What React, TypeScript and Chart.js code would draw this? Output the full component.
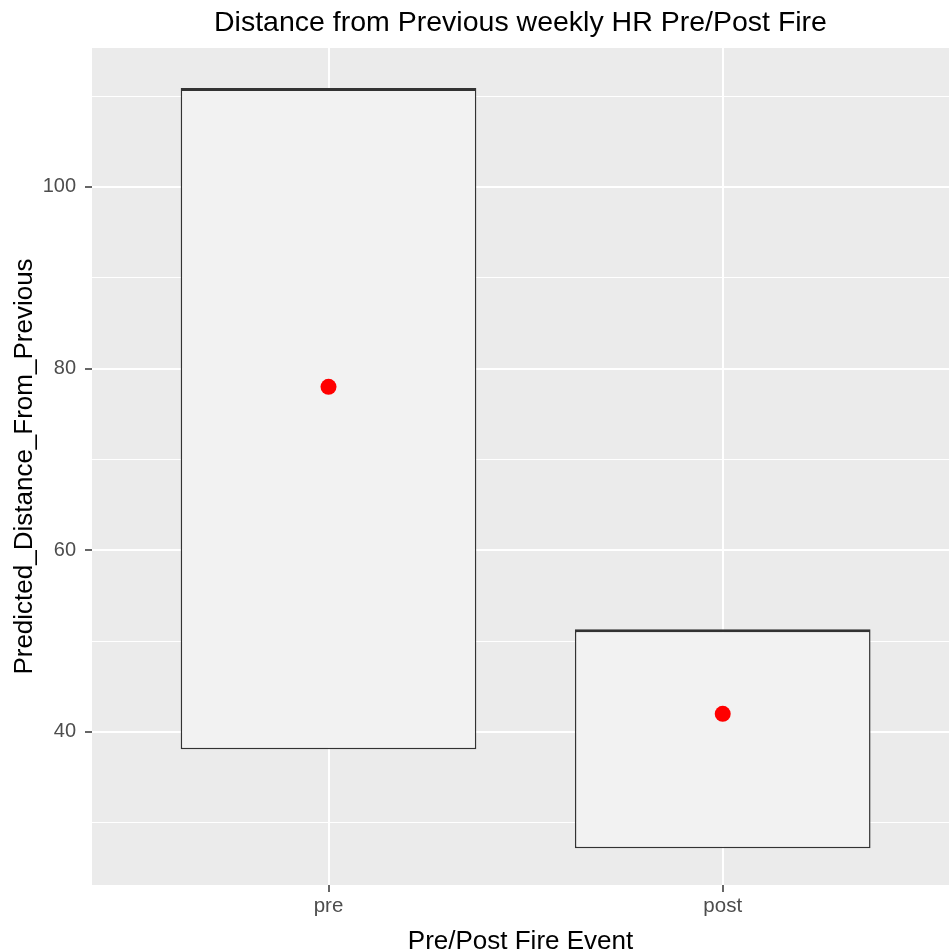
import React, { useEffect, useRef } from "react";
import { Chart, registerables } from "chart.js";

Chart.register(...registerables);

const categories = ["pre", "post"];
const boxLower = [38.1, 27.2];
const boxUpper = [110.9, 51.3];
const meanValues = [78, 42];
const yTicks = [30, 40, 50, 60, 70, 80, 90, 100, 110];
const yLabelled = [40, 60, 80, 100];

const panelBg = {
  id: "panelBg",
  beforeDraw(chart: any) {
    const { ctx, chartArea } = chart;
    ctx.save();
    ctx.fillStyle = "#EBEBEB";
    ctx.fillRect(chartArea.left, chartArea.top, chartArea.right - chartArea.left, chartArea.bottom - chartArea.top);
    ctx.restore();
  },
};

export default function App() {
  const ref = useRef<HTMLCanvasElement | null>(null);
  useEffect(() => {
    if (!ref.current) return;
    const chart = new Chart(ref.current, {
      type: "bar",
      data: {
        datasets: [
          {
            type: "line",
            label: "mean",
            data: categories.map((_, i) => ({ x: i + 1, y: meanValues[i] })),
            showLine: false,
            pointRadius: 8,
            pointHoverRadius: 8,
            pointBackgroundColor: "#FF0000",
            pointBorderWidth: 0,
            borderColor: "#FF0000",
            order: 1,
          } as any,
          {
            type: "bar",
            label: "range",
            data: categories.map((_, i) => ({ x: i + 1, y: [boxLower[i], boxUpper[i]] })),
            backgroundColor: "#F2F2F2",
            borderColor: "#333333",
            borderWidth: { top: 3, left: 1.5, right: 1.5, bottom: 1.5 },
            borderSkipped: false,
            barPercentage: 0.75,
            categoryPercentage: 1,
            order: 2,
          } as any,
        ],
      },
      options: {
        animation: false,
        responsive: false,
        devicePixelRatio: 1,
        layout: { padding: 0, autoPadding: false },
        plugins: {
          legend: { display: false },
          tooltip: { enabled: false },
          title: {
            display: true,
            text: "Distance from Previous weekly HR Pre/Post Fire",
            fullSize: false,
            color: "#000000",
            font: { family: "'Liberation Sans', Arial, sans-serif", size: 28.5, weight: "normal", lineHeight: 1.2 },
            padding: { top: 6, bottom: 7.8 },
          },
        },
        scales: {
          x: {
            type: "linear",
            offset: false,
            min: 0.4,
            max: 2.574,
            afterBuildTicks: (scale: any) => {
              scale.ticks = categories.map((_, i) => ({ value: i + 1 }));
            },
            afterFit: (scale: any) => {
              scale.height = 67;
              scale.paddingLeft = 0;
              scale.paddingRight = 0;
            },
            border: { display: false },
            grid: {
              offset: false,
              color: "#FFFFFF",
              lineWidth: 2,
              tickLength: 7,
              tickColor: "#333333",
              tickWidth: 1.5,
            },
            ticks: {
              padding: 2,
              color: "#4D4D4D",
              font: { family: "'Liberation Sans', Arial, sans-serif", size: 20.5 },
              maxRotation: 0,
              autoSkip: false,
              callback: (v: any) => categories[Math.round(v) - 1] ?? "",
            },
            title: {
              display: true,
              text: "Pre/Post Fire Event",
              color: "#000000",
              font: { family: "'Liberation Sans', Arial, sans-serif", size: 26, lineHeight: 1 },
              padding: { top: 0, bottom: -3 },
            },
          },
          y: {
            type: "linear",
            min: 23.15,
            max: 115.3,
            afterBuildTicks: (scale: any) => {
              scale.ticks = yTicks.map((v) => ({ value: v }));
            },
            afterFit: (scale: any) => {
              scale.width = 92;
            },
            border: { display: false },
            grid: {
              color: "#FFFFFF",
              lineWidth: (c: any) => (c.tick && yLabelled.includes(c.tick.value) ? 2 : 1.1),
              tickLength: 7,
              tickColor: (c: any) => (c.tick && yLabelled.includes(c.tick.value) ? "#333333" : "rgba(0,0,0,0)"),
              tickWidth: 1.5,
            },
            ticks: {
              padding: 9,
              color: "#4D4D4D",
              font: { family: "'Liberation Sans', Arial, sans-serif", size: 20 },
              autoSkip: false,
              callback: (v: any) => (yLabelled.includes(v) ? String(v) : ""),
            },
            title: {
              display: true,
              text: "Predicted_Distance_From_Previous",
              color: "#000000",
              font: { family: "'Liberation Sans', Arial, sans-serif", size: 26, lineHeight: 1.2 },
              padding: { top: 9, bottom: 0 },
            },
          },
        },
      } as any,
      plugins: [panelBg],
    });
    return () => chart.destroy();
  }, []);
  return (
    <div style={{ position: "absolute", left: 0, top: 0, width: 949, height: 952, background: "#FFFFFF" }}>
      <canvas ref={ref} width={949} height={952} style={{ display: "block", width: 949, height: 952 }} />
    </div>
  );
}
